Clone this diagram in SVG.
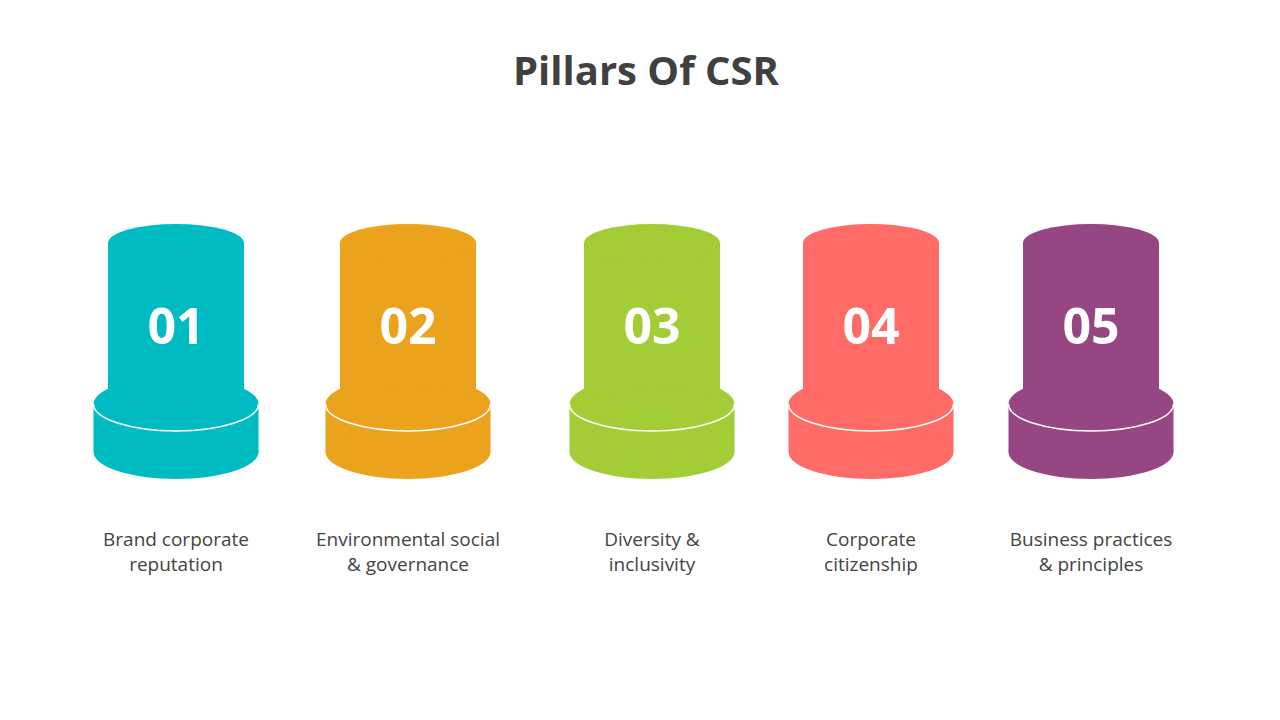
<svg xmlns="http://www.w3.org/2000/svg" width="1280" height="720" viewBox="0 0 1280 720">
<style>
.t{font-family:"Open Sans","Liberation Sans",sans-serif;font-weight:bold;font-size:40px;fill:#404040;text-anchor:middle}
.n{font-family:"Open Sans","Liberation Sans",sans-serif;font-weight:bold;font-size:50px;fill:#fff;text-anchor:middle}
.l{font-family:"Open Sans","Liberation Sans",sans-serif;font-size:19px;fill:#444;text-anchor:middle}
.w{fill:none;stroke:#fff;stroke-width:1.5}
</style>
<defs>
<g id="cyl">
<rect x="-82.5" y="404" width="165" height="48"/>
<ellipse cx="0" cy="452" rx="82.5" ry="27"/>
<ellipse cx="0" cy="404" rx="82.5" ry="27" class="dk"/>
<path d="M-82.5,404 A82.5,27 0 0 0 82.5,404" class="w"/>
<rect x="-68" y="243" width="136" height="165"/>
<ellipse cx="0" cy="408" rx="68" ry="19"/>
<ellipse cx="0" cy="243" rx="68" ry="19" class="dk"/>
</g>
</defs>
<rect width="1280" height="720" fill="#fff"/>
<text x="646" y="85" class="t">Pillars Of CSR</text>
<g id="node1" transform="translate(176,0)" fill="#00BCC2"><style>#node1 .dk{fill:#038A8E}</style><use href="#cyl"/><text x="0" y="344" class="n">01</text></g>
<g id="node2" transform="translate(408,0)" fill="#EBA31E"><style>#node2 .dk{fill:#B57A10}</style><use href="#cyl"/><text x="0" y="344" class="n">02</text></g>
<g id="node3" transform="translate(652,0)" fill="#A3CD37"><style>#node3 .dk{fill:#7A9B24}</style><use href="#cyl"/><text x="0" y="344" class="n">03</text></g>
<g id="node4" transform="translate(871,0)" fill="#FF6B66"><style>#node4 .dk{fill:#FF1A12}</style><use href="#cyl"/><text x="0" y="344" class="n">04</text></g>
<g id="node5" transform="translate(1091,0)" fill="#954683"><style>#node5 .dk{fill:#6C3160}</style><use href="#cyl"/><text x="0" y="344" class="n">05</text></g>
<g id="labels">
<text x="176" y="546" class="l">Brand corporate</text><text x="176" y="571" class="l">reputation</text>
<text x="408" y="546" class="l">Environmental social</text><text x="408" y="571" class="l">&amp; governance</text>
<text x="652" y="546" class="l">Diversity  &amp;</text><text x="652" y="571" class="l">inclusivity</text>
<text x="871" y="546" class="l">Corporate</text><text x="871" y="571" class="l">citizenship</text>
<text x="1091" y="546" class="l">Business practices</text><text x="1091" y="571" class="l">&amp; principles</text>
</g>
<g id="connectors"/>
</svg>
